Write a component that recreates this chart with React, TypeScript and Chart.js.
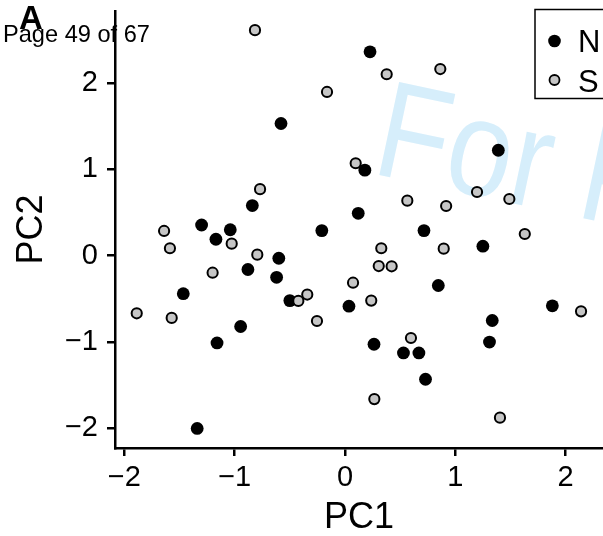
import React, { useEffect, useRef } from 'react';
import { Chart, registerables } from 'chart.js';

Chart.register(...registerables);

// ---- data ----
const seriesNames = ['N', 'S'];
const nPC1 = [0.227, -0.58, 1.39, 0.18, -0.84, 0.12, -1.3, -0.21, -1.04, 0.716, -1.17, 1.25, -0.6, -0.88, -0.62, 0.846, -1.466, -0.5, 0.036, 1.88, 1.335, -0.946, -1.16, 0.263, 1.31, 0.53, 0.67, 0.73, -1.34];
const nPC2 = [2.36, 1.53, 1.22, 0.99, 0.58, 0.49, 0.355, 0.29, 0.3, 0.29, 0.19, 0.11, -0.03, -0.16, -0.25, -0.345, -0.44, -0.52, -0.585, -0.58, -0.75, -0.82, -1.01, -1.025, -1.0, -1.126, -1.126, -1.43, -2.0];
const sPC1 = [-0.816, 0.864, 0.378, -0.163, -0.77, 0.097, 0.565, 0.917, 1.197, 1.49, -1.64, -1.587, -1.027, -0.795, -1.2, 0.329, 0.895, 1.63, 0.306, 0.423, 0.073, -0.342, -0.423, 0.238, -1.888, -1.571, -0.254, 2.14, 0.598, 0.266, 1.405];
const sPC2 = [2.61, 2.16, 2.1, 1.895, 0.77, 1.07, 0.637, 0.575, 0.737, 0.656, 0.286, 0.086, 0.139, 0.012, -0.197, 0.086, 0.081, 0.251, -0.12, -0.123, -0.313, -0.45, -0.524, -0.52, -0.667, -0.72, -0.756, -0.644, -0.953, -1.66, -1.875];
const xTickValues = [-2, -1, 0, 1, 2];
const yTickValues = [-2, -1, 0, 1, 2];
const xTitle = 'PC1';
const yTitle = 'PC2';
const panelLabel = 'A';
const pageText = 'Page 49 of 67';
const watermarkText = 'For Peer Review';

const FONT = '"Liberation Sans", Arial, Helvetica, sans-serif';
const GRAY = '#c6c6c6';

const fmt = (v: number) => (v < 0 ? '\u2212' + Math.abs(v) : String(v));

const overlayPlugin = {
  id: 'overlay',
  beforeDatasetsDraw(chart: any) {
    const ctx = chart.ctx;
    ctx.save();
    ctx.translate(370, 173);
    ctx.rotate((12 * Math.PI) / 180);
    ctx.scale(0.85, 1);
    ctx.font = `138px ${FONT}`;
    ctx.fillStyle = 'rgb(214,238,251)';
    ctx.textBaseline = 'alphabetic';
    ctx.textAlign = 'left';
    ctx.fillText(watermarkText, 0, 0);
    ctx.restore();
  },
  afterDraw(chart: any) {
    const ctx = chart.ctx;
    ctx.save();
    // legend box
    ctx.fillStyle = '#fff';
    ctx.fillRect(535, 9.5, 120, 89);
    ctx.strokeStyle = '#000';
    ctx.lineWidth = 1.5;
    ctx.strokeRect(535, 9.5, 120, 89);
    ctx.beginPath();
    ctx.arc(554.5, 41, 6.3, 0, Math.PI * 2);
    ctx.fillStyle = '#000';
    ctx.fill();
    ctx.beginPath();
    ctx.arc(554.5, 80, 5, 0, Math.PI * 2);
    ctx.fillStyle = GRAY;
    ctx.fill();
    ctx.lineWidth = 1.8;
    ctx.strokeStyle = '#000';
    ctx.stroke();
    ctx.fillStyle = '#000';
    ctx.font = `31px ${FONT}`;
    ctx.textAlign = 'left';
    ctx.textBaseline = 'alphabetic';
    ctx.fillText(seriesNames[0], 578, 52);
    ctx.fillText(seriesNames[1], 578, 91.5);
    // panel label and page text
    ctx.font = `bold 33px ${FONT}`;
    ctx.fillText(panelLabel, 19, 28.5);
    ctx.font = `23.6px ${FONT}`;
    ctx.fillText(pageText, 3, 41.5);
    ctx.restore();
  },
};

export default function App() {
  const ref = useRef<HTMLCanvasElement | null>(null);
  useEffect(() => {
    const canvas = ref.current;
    if (!canvas) return;
    const chart = new Chart(canvas, {
      type: 'scatter',
      data: {
        datasets: [
          {
            label: seriesNames[1],
            data: sPC1.map((x, i) => ({ x, y: sPC2[i] })),
            backgroundColor: GRAY,
            borderColor: '#000',
            borderWidth: 2,
            pointRadius: 5.1,
            order: 0,
          },
          {
            label: seriesNames[0],
            data: nPC1.map((x, i) => ({ x, y: nPC2[i] })),
            backgroundColor: '#000',
            borderColor: '#000',
            borderWidth: 0,
            pointRadius: 6.4,
            order: 1,
          },
        ],
      },
      options: {
        responsive: false,
        animation: false,
        layout: { autoPadding: false, padding: { top: 11, left: 0, right: 0, bottom: 0 } },
        plugins: { legend: { display: false }, tooltip: { enabled: false } },
        scales: {
          x: {
            type: 'linear',
            min: -2.085,
            max: 2.339,
            afterFit: (s: any) => {
              s.height = 88;
              s.paddingLeft = 0;
              s.paddingRight = 0;
            },
            afterBuildTicks: (s: any) => {
              s.ticks = xTickValues.map((v) => ({ value: v }));
            },
            grid: { drawOnChartArea: false, drawTicks: true, tickLength: 8, color: '#000', lineWidth: 2.5 },
            border: { display: true, color: '#000', width: 2.5 },
            ticks: { color: '#000', font: { family: FONT, size: 29 }, padding: 5, callback: (v: any) => fmt(Number(v)), maxRotation: 0, autoSkip: false },
            title: { display: true, text: xTitle, color: '#000', font: { family: FONT, size: 36, lineHeight: 1 }, padding: 0 },
          },
          y: {
            type: 'linear',
            min: -2.226,
            max: 2.832,
            afterFit: (s: any) => {
              s.width = 115;
              s.paddingTop = 0;
              s.paddingBottom = 0;
            },
            afterBuildTicks: (s: any) => {
              s.ticks = yTickValues.map((v) => ({ value: v }));
            },
            grid: { drawOnChartArea: false, drawTicks: true, tickLength: 8, color: '#000', lineWidth: 2.5 },
            border: { display: true, color: '#000', width: 2.5 },
            ticks: { color: '#000', font: { family: FONT, size: 29 }, padding: 9, callback: (v: any) => fmt(Number(v)), autoSkip: false },
            title: { display: true, text: yTitle, color: '#000', font: { family: FONT, size: 36, lineHeight: 1 }, padding: { top: 14, bottom: 0 } },
          },
        },
      },
      plugins: [overlayPlugin],
    });
    return () => chart.destroy();
  }, []);
  return (
    <div style={{ position: 'absolute', left: 0, top: 0, width: 603, height: 536, background: '#fff' }}>
      <canvas ref={ref} width={603} height={536} style={{ display: 'block' }} />
    </div>
  );
}
